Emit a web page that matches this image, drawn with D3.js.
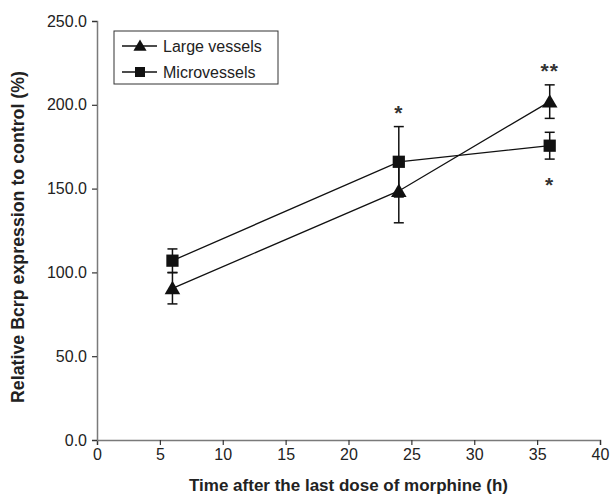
<!DOCTYPE html>
<html>
<head>
<meta charset="utf-8">
<script src="https://cdn.jsdelivr.net/npm/d3@7"></script>
<style>
  html, body { margin: 0; padding: 0; background: #fff; }
  svg { display: block; font-family: "Liberation Sans", Arial, sans-serif; }
</style>
</head>
<body>
<svg id="chart" width="611" height="495"></svg>
<script>
// Hours after the last morphine dose
const hours = [6, 24, 36];
// Relative Bcrp expression (% of control), mean and error
const largeMean = [90.5, 148.6, 201.9];
const largeErr  = [9.3, 19.0, 10.0];
const microMean = [107.0, 166.0, 175.6];
const microErr  = [7.0, 21.0, 8.0];
// Significance marks: series, point index, side, text
const sigSeries = ["micro", "large", "micro"];
const sigIndex  = [1, 2, 2];
const sigSide   = ["above", "above", "below"];
const sigText   = ["*", "**", "*"];
// Axis ticks
const xTicks = [0, 5, 10, 15, 20, 25, 30, 35, 40];
const yTicks = [0, 50, 100, 150, 200, 250];
const seriesNames = ["Large vessels", "Microvessels"];

const svg = d3.select("#chart");
const margin = { left: 97, top: 21, right: 11, bottom: 55 };
const W = 611, H = 495;

const x = d3.scaleLinear().domain([0, 40]).range([margin.left, W - margin.right]);
const y = d3.scaleLinear().domain([0, 250]).range([H - margin.bottom, margin.top]);

const axisColor = "#7a7a7a";
const textColor = "#222";

// Axes
const xAxis = svg.append("g")
  .attr("transform", `translate(0,${y(0)})`)
  .call(d3.axisBottom(x).tickValues(xTicks).tickSize(5).tickPadding(4).tickFormat(d3.format("d")));
const yAxis = svg.append("g")
  .attr("transform", `translate(${x(0)},0)`)
  .call(d3.axisLeft(y).tickValues(yTicks).tickSize(5).tickPadding(5).tickFormat(d3.format(".1f")));

[xAxis, yAxis].forEach(g => {
  g.select(".domain").attr("stroke", axisColor).attr("stroke-width", 1.5);
  g.selectAll(".tick line").attr("stroke", "#333").attr("stroke-width", 1.2);
  g.selectAll(".tick text")
    .attr("fill", textColor)
    .style("font-size", "16px")
    .style("font-family", "'Liberation Sans', Arial, sans-serif");
});

// Axis titles
svg.append("text")
  .attr("x", (x(0) + x(40)) / 2)
  .attr("y", 491)
  .attr("text-anchor", "middle")
  .attr("fill", textColor)
  .style("font-size", "17px")
  .style("font-weight", "bold")
  .text("Time after the last dose of morphine (h)");

svg.append("text")
  .attr("transform", `translate(24,237) rotate(-90)`)
  .attr("text-anchor", "middle")
  .attr("fill", textColor)
  .style("font-size", "17.8px")
  .style("font-weight", "bold")
  .text("Relative Bcrp expression to control (%)");

const line = d3.line().x(d => x(d[0])).y(d => y(d[1]));

const triangle = d3.symbol().type(d3.symbolTriangle).size(105);
const square = d3.symbol().type(d3.symbolSquare).size(150);

function drawSeries(means, errs, sym, dy) {
  const pts = hours.map((h, i) => [h, means[i], errs[i]]);
  svg.append("path")
    .datum(pts)
    .attr("fill", "none")
    .attr("stroke", "#111")
    .attr("stroke-width", 1.3)
    .attr("d", line);
  const eb = svg.append("g").attr("stroke", "#111").attr("stroke-width", 1.5);
  pts.forEach(p => {
    const cx = x(p[0]);
    eb.append("line").attr("x1", cx).attr("x2", cx).attr("y1", y(p[1] - p[2])).attr("y2", y(p[1] + p[2]));
    eb.append("line").attr("x1", cx - 5).attr("x2", cx + 5).attr("y1", y(p[1] + p[2])).attr("y2", y(p[1] + p[2]));
    eb.append("line").attr("x1", cx - 5).attr("x2", cx + 5).attr("y1", y(p[1] - p[2])).attr("y2", y(p[1] - p[2]));
  });
  svg.append("g").selectAll("path")
    .data(pts)
    .join("path")
    .attr("transform", d => `translate(${x(d[0])},${y(d[1]) + dy})`)
    .attr("d", sym)
    .attr("fill", "#111");
}

drawSeries(largeMean, largeErr, triangle, 1.5);
drawSeries(microMean, microErr, square, 0);

// Significance asterisks
const lookup = { large: [largeMean, largeErr], micro: [microMean, microErr] };
sigText.forEach((t, k) => {
  const [m, e] = lookup[sigSeries[k]];
  const i = sigIndex[k];
  const above = sigSide[k] === "above";
  const end = above ? y(m[i] + e[i]) : y(m[i] - e[i]);
  const cy = above ? end - 17 : end + 23;
  svg.append("text")
    .attr("x", x(hours[i]))
    .attr("y", cy + 10)
    .attr("text-anchor", "middle")
    .attr("fill", "#333")
    .style("font-size", "21px")
    .style("font-weight", "bold")
    .style("letter-spacing", "1px")
    .text(t);
});

// Legend
const lg = svg.append("g");
lg.append("rect")
  .attr("x", 114).attr("y", 31)
  .attr("width", 164).attr("height", 53)
  .attr("fill", "#fff").attr("stroke", "#333").attr("stroke-width", 1);
const legendSyms = [d3.symbol().type(d3.symbolTriangle).size(75), d3.symbol().type(d3.symbolSquare).size(100)];
seriesNames.forEach((name, i) => {
  const ly = 46 + i * 26;
  lg.append("line").attr("x1", 122).attr("x2", 157).attr("y1", ly).attr("y2", ly)
    .attr("stroke", "#111").attr("stroke-width", 1.3);
  lg.append("path").attr("transform", `translate(140,${ly + (i === 0 ? 1 : 0)})`)
    .attr("d", legendSyms[i]).attr("fill", "#111");
  lg.append("text").attr("x", 163).attr("y", ly + 6)
    .attr("fill", textColor)
    .style("font-size", "16px")
    .text(name);
});
</script>
</body>
</html>
